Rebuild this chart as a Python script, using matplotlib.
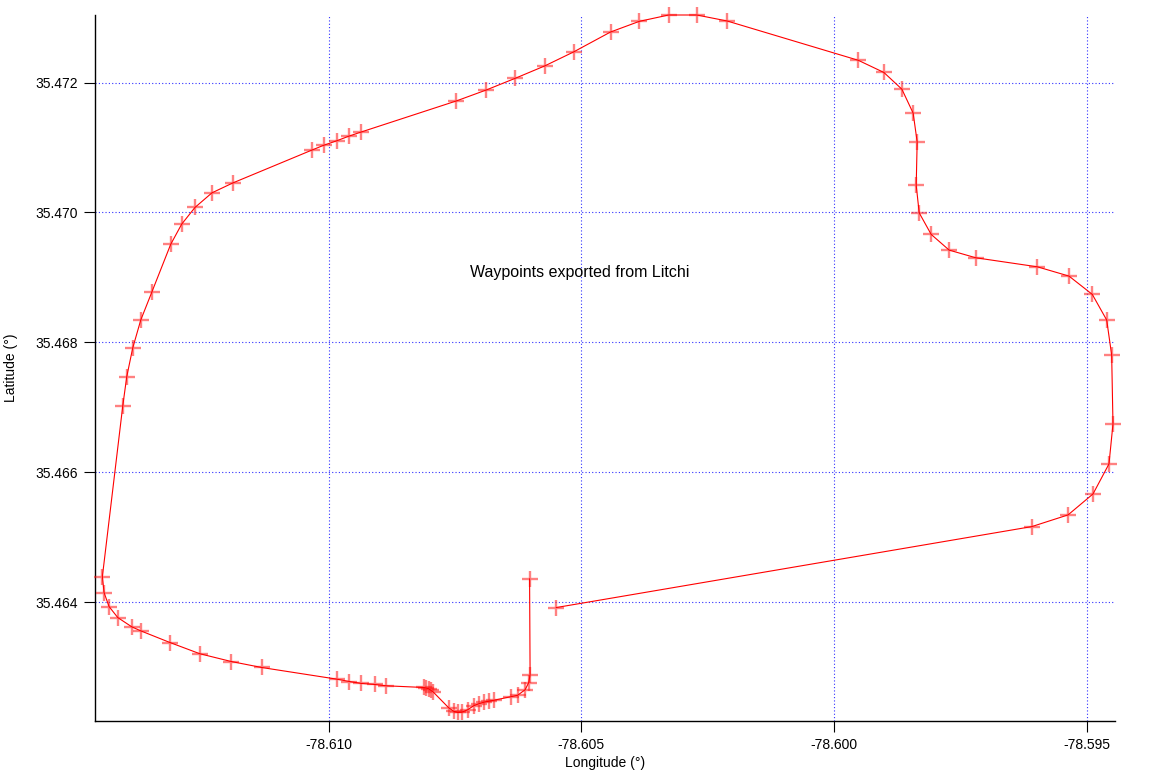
import matplotlib
matplotlib.use("Agg")
import matplotlib.pyplot as plt

plt.rcParams['font.family'] = ['Liberation Sans', 'DejaVu Sans']

# Waypoints (longitude, latitude) in path order
lon = [-78.605494, -78.596087, -78.595369, -78.594875, -78.594559, -78.594480,
       -78.594506, -78.594604, -78.594889, -78.595350, -78.595976, -78.597194,
       -78.597721, -78.598077, -78.598314, -78.598373, -78.598354, -78.598433,
       -78.598656, -78.599012, -78.599520, -78.602115, -78.602715, -78.603269,
       -78.603848, -78.604421, -78.605152, -78.605725, -78.606304, -78.606877,
       -78.607470, -78.609348, -78.609599, -78.609842, -78.610093, -78.610336,
       -78.611891, -78.612306, -78.612642, -78.612905, -78.613123, -78.613498,
       -78.613715, -78.613874, -78.613992, -78.614071, -78.614474, -78.614441,
       -78.614342, -78.614170, -78.613893, -78.613715, -78.613136, -78.612544,
       -78.611925, -78.611324, -78.609842, -78.609585, -78.609348, -78.609085,
       -78.608854, -78.608117, -78.608063, -78.608018, -78.607978, -78.607933,
       -78.607623, -78.607524, -78.607445, -78.607366, -78.607247, -78.607128,
       -78.607030, -78.606931, -78.606832, -78.606733, -78.606397, -78.606259,
       -78.606111, -78.606041, -78.606012, -78.606022]
lat = [35.463917, 35.465163, 35.465343, 35.465666, 35.466128, 35.466743,
       35.467805, 35.468343, 35.468738, 35.469020, 35.469163, 35.469302,
       35.469420, 35.469662, 35.469994, 35.470420, 35.471086, 35.471528,
       35.471897, 35.472155, 35.472343, 35.472948, 35.473040, 35.473040,
       35.472943, 35.472778, 35.472471, 35.472255, 35.472066, 35.471886,
       35.471717, 35.471240, 35.471174, 35.471102, 35.471035, 35.470958,
       35.470455, 35.470302, 35.470077, 35.469820, 35.469508, 35.468769,
       35.468343, 35.467912, 35.467471, 35.467020, 35.464394, 35.464148,
       35.463932, 35.463763, 35.463620, 35.463558, 35.463378, 35.463205,
       35.463086, 35.462994, 35.462815, 35.462778, 35.462748, 35.462732,
       35.462712, 35.462686, 35.462677, 35.462666, 35.462643, 35.462620,
       35.462374, 35.462320, 35.462302, 35.462305, 35.462343, 35.462405,
       35.462435, 35.462458, 35.462474, 35.462489, 35.462543, 35.462566,
       35.462651, 35.462758, 35.462882, 35.464358]

x_ticks = [-78.610, -78.605, -78.600, -78.595]
x_tick_labels = ["-78.610", "-78.605", "-78.600", "-78.595"]
y_ticks = [35.464, 35.466, 35.468, 35.470, 35.472]
y_tick_labels = ["35.464", "35.466", "35.468", "35.470", "35.472"]

title_text = "Waypoints exported from Litchi"
title_pos = (-78.605024, 35.469082)

fig = plt.figure(figsize=(11.54, 7.73), dpi=100)
ax = fig.add_axes([95/1154, 1 - 721/773, (1115-95)/1154, (721-15)/773])

ax.plot(lon, lat, linestyle='none', marker='+', markersize=11,
        markeredgewidth=1.7, color=(1, 0.1, 0.1, 0.55), zorder=3,
        clip_on=False)
ax.plot(lon, lat, color='red', linewidth=0.8, zorder=4, clip_on=False)

ax.set_xlim(-78.61462, -78.59444)
ax.set_ylim(35.46217, 35.47304)

ax.set_xticks(x_ticks)
ax.set_xticklabels(x_tick_labels)
ax.set_yticks(y_ticks)
ax.set_yticklabels(y_tick_labels)

ax.grid(True, color='#3030ff', linestyle=(0, (1, 2)), linewidth=0.8)
ax.set_axisbelow(True)

for s in ['top', 'right']:
    ax.spines[s].set_visible(False)
for s in ['left', 'bottom']:
    ax.spines[s].set_linewidth(1.0)
    ax.spines[s].set_color('black')

ax.tick_params(direction='out', length=8, width=0.8, labelsize=10, pad=4,
               colors='black')

ax.set_xlabel("Longitude (°)", fontsize=10, labelpad=3)
ax.set_ylabel("Latitude (°)", fontsize=10, labelpad=13)

ax.text(title_pos[0], title_pos[1], title_text, ha='center', va='center',
        fontsize=11.5, color='black')

fig.savefig("out.png", dpi=100)
